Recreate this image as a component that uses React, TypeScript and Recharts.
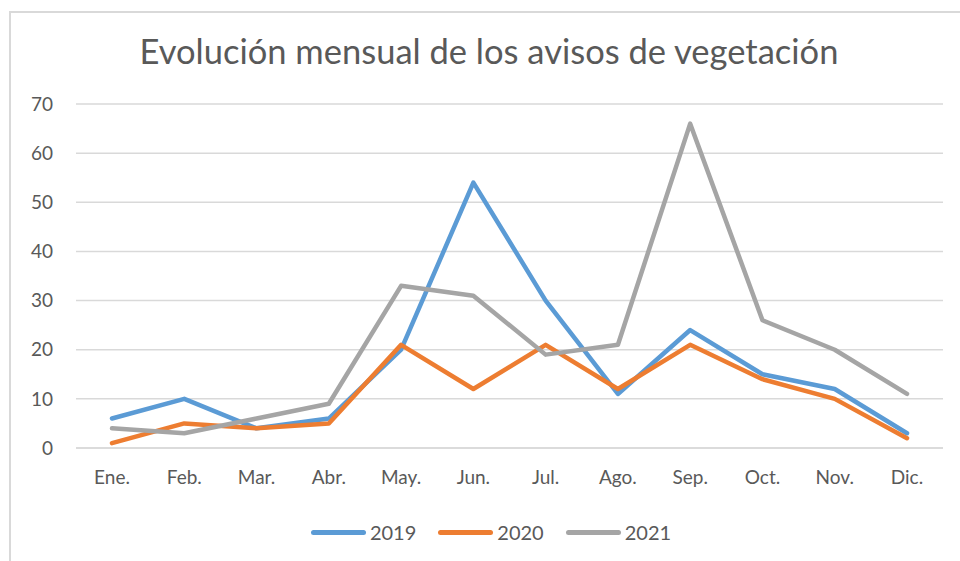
import React from "react";
import { LineChart, Line, XAxis, YAxis, CartesianGrid } from "recharts";

const months = ["Ene.", "Feb.", "Mar.", "Abr.", "May.", "Jun.", "Jul.", "Ago.", "Sep.", "Oct.", "Nov.", "Dic."];
const avisos2019 = [6, 10, 4, 6, 20, 54, 30, 11, 24, 15, 12, 3];
const avisos2020 = [1, 5, 4, 5, 21, 12, 21, 12, 21, 14, 10, 2];
const avisos2021 = [4, 3, 6, 9, 33, 31, 19, 21, 66, 26, 20, 11];
const yTicks = [0, 10, 20, 30, 40, 50, 60, 70];

const series = [
  { key: "2019", color: "#5B9BD5" },
  { key: "2020", color: "#ED7D31" },
  { key: "2021", color: "#A5A5A5" },
];

const data = months.map((m, i) => ({
  month: m,
  "2019": avisos2019[i],
  "2020": avisos2020[i],
  "2021": avisos2021[i],
}));

const FONT = "Lato, 'Open Sans', sans-serif";
const TEXT = "#595959";

// legend drawn as plain html under the plot, like the excel one
const ChartLegend = () => (
  <div
    style={{
      position: "absolute",
      left: 0,
      top: 520,
      width: 982,
      display: "flex",
      justifyContent: "center",
      gap: 22,
      fontFamily: FONT,
      fontSize: 20,
      color: TEXT,
    }}
  >
    {series.map((s) => (
      <div key={s.key} style={{ display: "flex", alignItems: "center" }}>
        <span style={{ display: "inline-block", width: 55, height: 5, borderRadius: 3, background: s.color, marginRight: 4 }} />
        <span>{s.key}</span>
      </div>
    ))}
  </div>
);

export default function App() {
  return (
    <div style={{ position: "fixed", left: 0, top: 0, width: 960, height: 561, background: "#fff", overflow: "hidden" }}>
      <div style={{ position: "absolute", left: 9, top: 11, width: 980, height: 580, border: "2px solid #d9d9d9", boxSizing: "border-box" }} />
      <div style={{ position: "absolute", left: 0, top: 30, width: 978, textAlign: "center", fontFamily: FONT, fontSize: 34.5, color: TEXT }}>
        Evolución mensual de los avisos de vegetación
      </div>
      <div style={{ position: "absolute", left: 0, top: 0 }}>
        <LineChart width={960} height={561} data={data} margin={{ top: 104, right: 17, left: 0, bottom: 83 }}>
          <CartesianGrid vertical={false} stroke="#d9d9d9" strokeWidth={1.5} />
          <XAxis
            dataKey="month"
            height={30}
            padding={{ left: 36, right: 36 }}
            axisLine={{ stroke: "#d9d9d9", strokeWidth: 1.5 }}
            tickLine={false}
            tickSize={0}
            tickMargin={23}
            tick={{ fill: TEXT, fontSize: 19, fontFamily: FONT }}
          />
          <YAxis
            width={76}
            domain={[0, 70]}
            ticks={yTicks}
            axisLine={false}
            tickLine={false}
            tickSize={0}
            tickMargin={23}
            tick={{ fill: TEXT, fontSize: 19, fontFamily: FONT }}
          />
          {series.map((s) => (
            <Line
              key={s.key}
              type="linear"
              dataKey={s.key}
              stroke={s.color}
              strokeWidth={4.5}
              strokeLinecap="round"
              strokeLinejoin="round"
              dot={false}
              activeDot={false}
              isAnimationActive={false}
            />
          ))}
        </LineChart>
      </div>
      <ChartLegend />
    </div>
  );
}
